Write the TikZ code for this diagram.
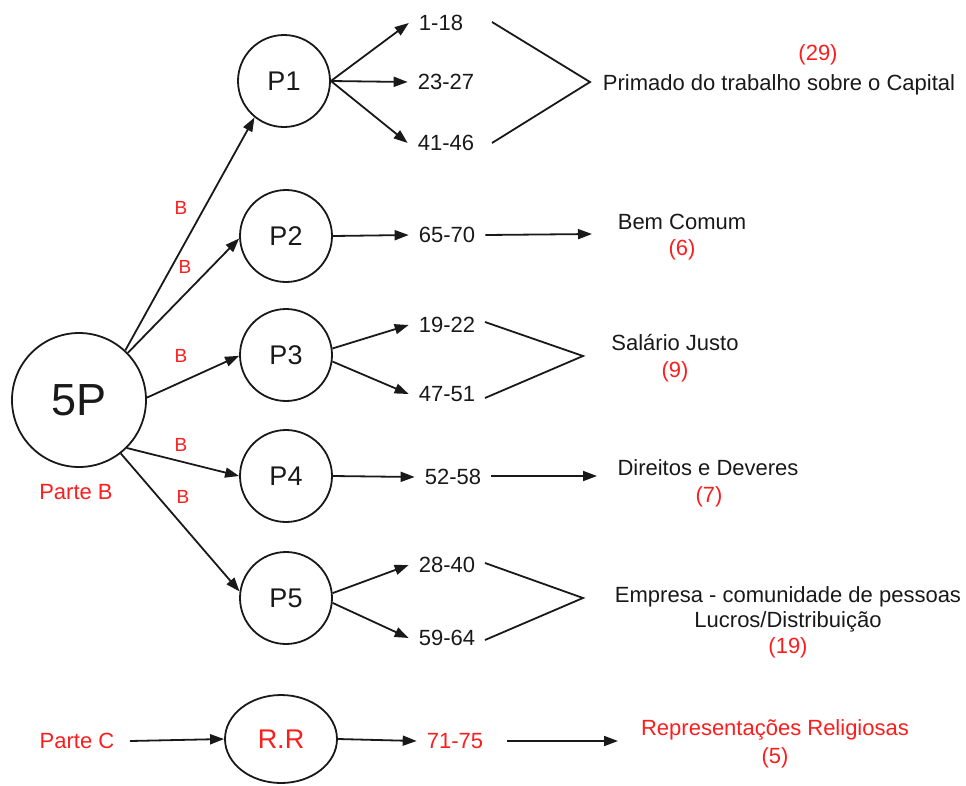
\documentclass[tikz,border=0pt]{standalone}
\usepackage{fontspec}
\setmainfont{Liberation Sans}
\usetikzlibrary{arrows.meta,shapes.geometric}
\definecolor{lab}{RGB}{250,30,30}
\definecolor{ink}{RGB}{25,25,25}
\begin{document}
\begin{tikzpicture}[x=1pt,y=-1pt,
  circ/.style={circle,draw=ink,line width=1.8pt,inner sep=0pt,minimum size=92pt,
    font=\fontsize{27}{30}\selectfont,text=ink},
  txt/.style={inner ysep=0pt,inner xsep=0pt,text height=15.75pt,text depth=0pt,
    font=\fontsize{22}{26}\selectfont,text=ink},
  num/.style={txt,inner xsep=10pt},
  rtxt/.style={txt,text=lab},
  blab/.style={text=lab,inner sep=0pt,text height=13.6pt,text depth=0pt,
    font=\fontsize{19}{22}\selectfont},
  arr/.style={draw=ink,line width=1.8pt,-{Triangle[length=14pt,width=10pt]}},
  ln/.style={draw=ink,line width=1.8pt}]
\useasboundingbox (0,0) rectangle (966,785);

% main node and the five principles
\node[circ,minimum size=134pt,font=\fontsize{45}{50}\selectfont] (c5p) at (79,400) {5P};
\node[rtxt] (parteB) at (76,492) {Parte B};
\node[circ] (p1) at (284,81) {P1};
\node[circ] (p2) at (286,236) {P2};
\node[circ] (p3) at (286,355) {P3};
\node[circ] (p4) at (286,476) {P4};
\node[circ] (p5) at (286,598) {P5};

% item ranges
\node[num] (n118)  at (441,23)  {1-18};
\node[num] (n2327) at (446,82)  {23-27};
\node[num] (n4146) at (446,143) {41-46};
\node[num] (n6570) at (447,235) {65-70};
\node[num] (n1922) at (447,325) {19-22};
\node[num] (n4751) at (447,394) {47-51};
\node[num] (n5258) at (453,477) {52-58};
\node[num] (n2840) at (447,565) {28-40};
\node[num] (n5964) at (447,638) {59-64};

% themes
\node[rtxt] (k29) at (818,53) {(29)};
\node[txt] (tprim) at (779,83) {Primado do trabalho sobre o Capital};
\node[txt] (tbem) at (682,222) {Bem Comum};
\node[rtxt] (k6) at (682,248) {(6)};
\node[txt] (tsal) at (675,343) {Salário Justo};
\node[rtxt] (k9) at (675,370) {(9)};
\node[txt] (tdir) at (708,468) {Direitos e Deveres};
\node[rtxt] (k7) at (709,495) {(7)};
\node[txt] (temp) at (788,595) {Empresa - comunidade de pessoas};
\node[txt] (tluc) at (788,620) {Lucros/Distribuição};
\node[rtxt] (k19) at (788,646) {(19)};

% part C
\node[rtxt] (parteC) at (77,741) {Parte C};
\node[ellipse,draw=ink,line width=1.8pt,minimum width=112pt,minimum height=88pt,inner sep=0pt,
  font=\fontsize{27}{30}\selectfont,text=lab] (rr) at (281,739) {R.R};
\node[num,text=lab] (n7175) at (455,741) {71-75};
\node[rtxt] (trep) at (775,728) {Representações Religiosas};
\node[rtxt] (k5) at (775,756) {(5)};

% 5P to principles, each marked B
\draw[arr] (c5p.47) -- (p1.231);
\draw[arr] (c5p.44) -- (p2.183);
\draw[arr] (c5p.2) -- (p3.181);
\draw[arr] (c5p.-45) -- (p4.180);
\draw[arr] (c5p.-52) -- (p5.172);
\node[blab] (b1) at (181,208) {B};
\node[blab] (b2) at (185,267) {B};
\node[blab] (b3) at (181,356) {B};
\node[blab] (b4) at (181,445) {B};
\node[blab] (b5) at (183,497) {B};

% principles to item ranges
\draw[arr] (p1.east) -- (n118.west);
\draw[arr] (p1.east) -- (n2327.west);
\draw[arr] (p1.east) -- (n4146.west);
\draw[arr] (p2.east) -- (n6570.west);
\draw[arr] (p3.8) -- (n1922.west);
\draw[arr] (p3.-8) -- (n4751.west);
\draw[arr] (p4.east) -- (n5258.west);
\draw[arr] (p5.6) -- (n2840.west);
\draw[arr] (p5.-6) -- (n5964.west);

% grouping brackets
\coordinate (b1a) at (492,22);
\coordinate (b1v) at (590,82);
\coordinate (b1b) at (492,143);
\draw[ln] (b1a) -- (b1v) -- (b1b);
\coordinate (b3a) at (485,322);
\coordinate (b3v) at (583,356);
\coordinate (b3b) at (485,398);
\draw[ln] (b3a) -- (b3v) -- (b3b);
\coordinate (b5a) at (485,563);
\coordinate (b5v) at (583,598);
\coordinate (b5b) at (485,640);
\draw[ln] (b5a) -- (b5v) -- (b5b);

% single ranges to their themes
\coordinate (e2) at (592,234);
\draw[arr] (n6570.east) -- (e2);
\coordinate (s4) at (491,476);
\coordinate (e4) at (597,476);
\draw[arr] (s4) -- (e4);

% part C chain
\coordinate (sC) at (130,741);
\draw[arr] (sC) -- (rr.west);
\draw[arr] (rr.east) -- (n7175.west);
\coordinate (sR) at (507,741);
\coordinate (eR) at (618,741);
\draw[arr] (sR) -- (eR);
\end{tikzpicture}
\end{document}
